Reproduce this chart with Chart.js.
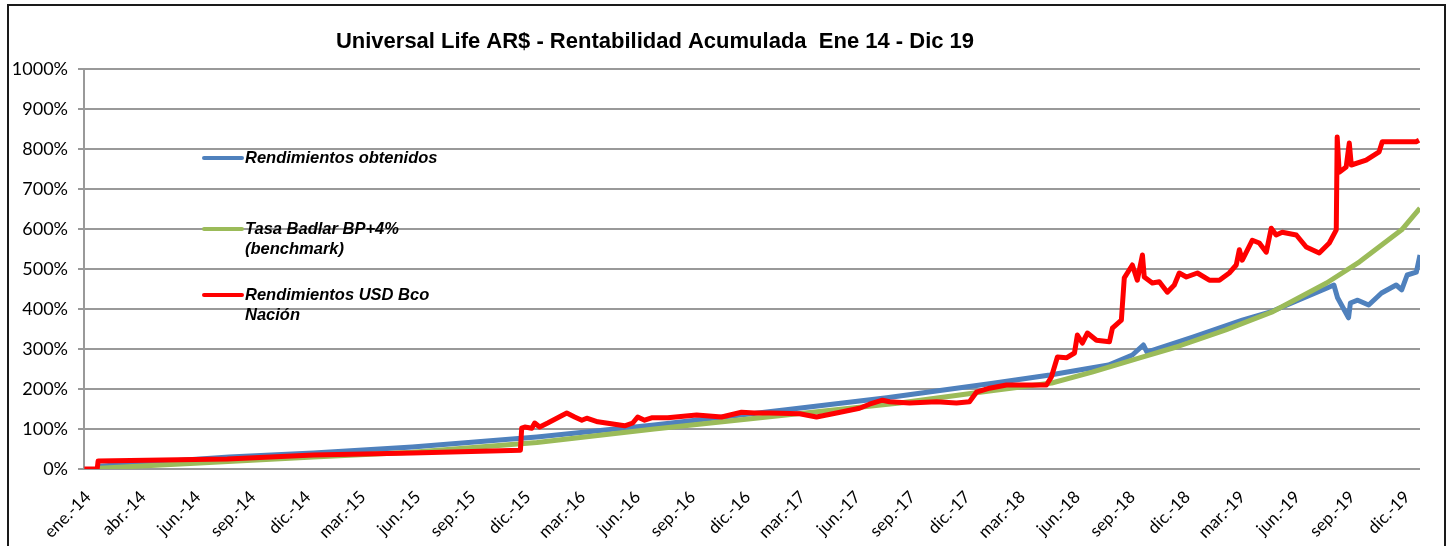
<!DOCTYPE html>
<html>
<head>
<meta charset="utf-8">
<title>Universal Life AR$ - Rentabilidad Acumulada</title>
<script src="https://cdn.jsdelivr.net/npm/chart.js@4.4.1/dist/chart.umd.min.js"></script>
<style>
    body { margin: 0; background: #ffffff; }
    #wrap { width: 1454px; height: 546px; }
</style>
</head>
<body>
<div id="wrap"><canvas id="myChart" width="1454" height="546"></canvas></div>
<script>
/*
 * Rentabilidad acumulada, ene-14 a dic-19
 * x = months since ene-14, y = % acumulado
 */

// tick labels, one every 3 months on the axis
var tickLabels = ["ene.-14", "abr.-14", "jun.-14", "sep.-14", "dic.-14", "mar.-15", "jun.-15", "sep.-15",
    "dic.-15", "mar.-16", "jun.-16", "sep.-16", "dic.-16", "mar.-17", "jun.-17", "sep.-17", "dic.-17",
    "mar.-18", "jun.-18", "sep.-18", "dic.-18", "mar.-19", "jun.-19", "sep.-19", "dic.-19"];
var tickMonths = [0, 3, 6, 9, 12, 15, 18, 21, 24, 27, 30, 33, 36, 39, 42, 45, 48, 51, 54, 57, 60, 63, 66, 69, 72];

var seriesNames = ["Rendimientos obtenidos", "Tasa Badlar BP+4% (benchmark)", "Rendimientos USD Bco Nación"];

// Rendimientos obtenidos
var blueMonths = [0.6, 3.9, 7.7, 12.3, 17.7, 24.5, 30.9, 38.1, 43.6, 49.2, 52.5, 55.7, 57.0, 57.6, 57.8,
    60.3, 63.0, 64.5, 67.6, 68.0, 68.2, 68.8, 68.9, 69.3, 69.9, 70.6, 71.4, 71.7, 72.0, 72.5, 72.7];
var blueValues = [7, 18, 30, 40, 55, 80, 110, 148, 178, 213, 235, 260, 285, 310, 292,
    330, 372, 392, 452, 460, 428, 378, 415, 422, 410, 440, 460, 448, 485, 492, 535];

// Tasa Badlar BP+4% (benchmark)
var greenMonths = [0.6, 6.1, 12.3, 17.7, 24.5, 30.9, 38.1, 44.3, 49.2, 52.6, 54.8, 57.4, 59.4, 62.1,
    64.6, 67.6, 69.4, 71.7, 72.7];
var greenValues = [2, 15, 30, 42, 66, 100, 135, 165, 195, 215, 242, 278, 305, 348,
    392, 465, 518, 598, 652];

// Rendimientos USD Bco Nacion
var redMonths = [-0.2, 0.5, 0.55, 7.6, 12.3, 17.7, 23.6,
    23.67, 23.84, 24.22, 24.38, 24.65, 25.09, 26.13, 26.56, 26.95, 27.22, 27.82, 29.29, 29.73, 30.0,
    30.38, 30.76, 31.64, 33.22, 34.58, 35.67, 36.38, 37.2, 38.84, 39.76, 40.85, 42.11, 42.65, 43.36,
    43.75, 44.84, 46.31, 47.4, 48.11, 48.49, 49.2, 50.13,
    52.31, 52.58, 52.91, 53.4, 53.84, 54.0, 54.27, 54.55, 55.04, 55.75, 55.91, 56.4, 56.56,
    57.0, 57.27, 57.55, 57.65, 58.09, 58.47, 58.91, 59.29, 59.56, 59.95, 60.55, 61.2, 61.75, 62.29,
    62.67, 62.84, 63.0, 63.55, 63.93, 64.31, 64.58, 64.85, 65.18, 65.95, 66.49, 67.2, 67.75, 68.13,
    68.18, 68.29, 68.67, 68.84, 68.95, 69.76, 70.47, 70.64, 72.49, 72.65];
var redValues = [0, 0, 20, 25, 35, 40, 47,
    102, 105, 102, 115, 105, 115, 140, 130, 122, 127, 118, 108, 115, 130,
    122, 128, 128, 135, 130, 142, 140, 140, 138, 130, 140, 152, 162, 172,
    168, 165, 168, 165, 168, 192, 202, 210,
    210, 230, 280, 278, 290, 335, 315, 340, 322, 318, 352, 372, 478,
    510, 472, 535, 480, 465, 468, 442, 460, 490, 480, 490, 472, 472, 490,
    510, 548, 522, 572, 565, 542, 602, 585, 592, 585, 555, 540, 565, 598,
    830, 742, 755, 815, 760, 772, 793, 818, 818, 822];

var colors = ["#4f81bd", "#9bbb59", "#ff0000"];

/**
 * zip x and y arrays into {x, y} points
 */
function toPoints(xs, ys) {
    let pts = [];
    for (let i = 0; i < xs.length; i++) {
        pts.push({ x: xs[i], y: ys[i] });
    }
    return pts;
}

// frame, title and the legend placed inside the plot, like the Excel chart
var decorPlugin = {
    id: "decor",
    afterDraw(chart) {
        let ctx = chart.ctx;
        ctx.save();
        ctx.strokeStyle = "#1a1a1a";
        ctx.lineWidth = 2;
        ctx.strokeRect(8, 5, 1437, 560);

        ctx.fillStyle = "#000";
        ctx.font = "bold 22px 'Liberation Sans', Arial, sans-serif";
        ctx.textAlign = "center";
        ctx.textBaseline = "middle";
        ctx.fillText("Universal Life AR$ - Rentabilidad Acumulada  Ene 14 - Dic 19", 655, 42);

        let legendRows = [
            { y: 158, lines: ["Rendimientos obtenidos"] },
            { y: 229, lines: ["Tasa Badlar BP+4%", "(benchmark)"] },
            { y: 295, lines: ["Rendimientos USD Bco", "Nación"] }
        ];
        ctx.font = "italic bold 16.5px 'Liberation Sans', Arial, sans-serif";
        ctx.textAlign = "left";
        ctx.lineCap = "round";
        for (let i = 0; i < legendRows.length; i++) {
            let row = legendRows[i];
            ctx.strokeStyle = colors[i];
            ctx.lineWidth = 4;
            ctx.beginPath();
            ctx.moveTo(204, row.y);
            ctx.lineTo(242, row.y);
            ctx.stroke();
            for (let j = 0; j < row.lines.length; j++) {
                ctx.fillText(row.lines[j], 245, row.y + j * 20);
            }
        }
        ctx.restore();
    }
};

function makeDataset(label, xs, ys, color, order) {
    return {
        label: label,
        data: toPoints(xs, ys),
        borderColor: color,
        backgroundColor: color,
        borderWidth: 5,
        pointRadius: 0,
        tension: 0,
        borderJoinStyle: "round",
        order: order
    };
}

var config = {
    type: "line",
    data: {
        datasets: [
            makeDataset(seriesNames[0], blueMonths, blueValues, colors[0], 3),
            makeDataset(seriesNames[1], greenMonths, greenValues, colors[1], 2),
            makeDataset(seriesNames[2], redMonths, redValues, colors[2], 1)
        ]
    },
    options: {
        responsive: false,
        animation: false,
        devicePixelRatio: 1,
        layout: { padding: { top: 69, right: 34, left: 0, bottom: 0 } },
        plugins: {
            legend: { display: false },
            title: { display: false },
            tooltip: { enabled: false }
        },
        scales: {
            x: {
                type: "linear",
                min: -0.22,
                max: 72.7,
                afterBuildTicks: function(scale) {
                    scale.ticks = tickMonths.map(m => ({ value: m }));
                },
                afterFit: function(scale) {
                    scale.height = 77;
                },
                grid: { display: false, drawTicks: false },
                border: { display: false },
                ticks: {
                    autoSkip: false,
                    maxRotation: 45,
                    minRotation: 45,
                    padding: 18,
                    color: "#000",
                    font: { family: "Lato, 'Open Sans', sans-serif", size: 17 },
                    callback: function(value) {
                        let idx = tickMonths.indexOf(value);
                        return idx >= 0 ? tickLabels[idx] : "";
                    }
                }
            },
            y: {
                min: 0,
                max: 1000,
                afterFit: function(scale) {
                    scale.width = 84;
                },
                grid: { color: "#999999", lineWidth: 2, tickLength: 6 },
                border: { color: "#999999", width: 2 },
                ticks: {
                    stepSize: 100,
                    padding: 10,
                    color: "#000",
                    font: { family: "Lato, 'Open Sans', sans-serif", size: 18 },
                    callback: v => v + "%"
                }
            }
        }
    },
    plugins: [decorPlugin]
};

var myChart = new Chart(document.getElementById("myChart"), config);
</script>
</body>
</html>
